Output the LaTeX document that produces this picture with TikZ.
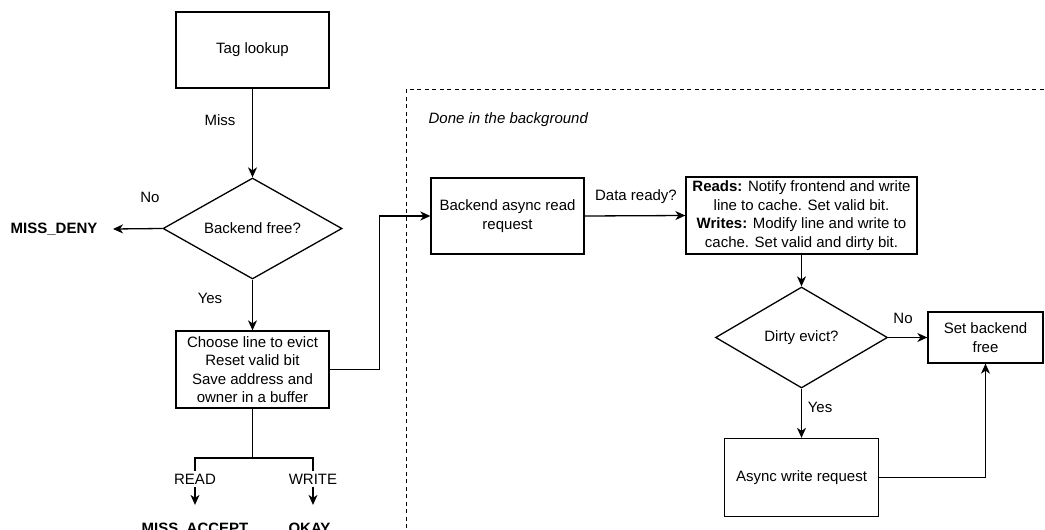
\documentclass[tikz,border=0pt]{standalone}
\usepackage{fontspec}
\setmainfont{Liberation Sans}
\usetikzlibrary{shapes.geometric,arrows.meta}
\begin{document}
\begin{tikzpicture}[x=1pt,y=-1pt,
  font=\fontsize{15pt}{18.5pt}\selectfont,
  line width=1.3pt,
  box/.style={draw, rectangle, align=center, inner sep=2pt},
  dec/.style={draw, diamond, inner sep=0pt, align=center},
  arr/.style={-{Stealth[length=10pt,width=9pt,inset=3pt]}},
  lbl/.style={inner sep=1pt},
  gaplbl/.style={inner xsep=1pt, inner ysep=3pt, fill=white},
  term/.style={font=\fontsize{15pt}{18.5pt}\selectfont\bfseries, inner sep=0pt}]
\useasboundingbox (0,0) rectangle (1045,530);
\clip (0,0) rectangle (1045,530);
\fill[white] (0,0) rectangle (1045,530);

% background region
\draw[dash pattern=on 4pt off 3.5pt, line width=1pt] (406,89) rectangle (1090,590);
\node[lbl, anchor=west, font=\fontsize{15pt}{18.5pt}\selectfont\itshape] (bgtitle) at (427,120) {Done in the background};

% left column
\node[box, minimum width=153, minimum height=76] (tag) at (252.5,50) {Tag lookup};
\node[dec, aspect=1.8, minimum width=179, minimum height=101] (bf) at (252.5,228.5) {Backend free?};
\node[term, anchor=east, inner xsep=15pt] (deny) at (113,229) {MISS\_DENY};
\node[box, minimum width=153, minimum height=77] (choose) at (252.5,369.5) {Choose line to evict\\Reset valid bit\\Save address and\\owner in a buffer};
\node[term, anchor=base] (accept) at (195,533) {MISS\_ACCEPT};
\node[term, anchor=base] (okay) at (309.5,533) {OKAY};
\coordinate (split) at (252.5,458);

\draw[arr] (tag.south) -- (bf.north);
\draw[arr] (bf.west) -- (deny.east);
\draw[arr] (bf.south) -- (choose.north);
\draw (choose.south) -- (split);
\draw[arr, shorten >=17pt] (split) -| (accept.north);
\draw[arr, shorten >=17pt] (split) -| ([xshift=3.5pt]okay.north);

\node[lbl] (miss) at (220,120) {Miss};
\node[lbl] (no1) at (150,197) {No};
\node[lbl] (yes1) at (210,298) {Yes};
\node[gaplbl] (rd) at (195,479) {READ};
\node[gaplbl] (wr) at (313,479) {WRITE};

% right part
\node[box, minimum width=153, minimum height=76] (bar) at (507.5,216) {Backend async read\\request};
\node[box, minimum width=231, minimum height=77] (reads) at (801.5,215.5) {\textbf{Reads:} Notify frontend and write\\line to cache. Set valid bit.\\\textbf{Writes:} Modify line and write to\\cache. Set valid and dirty bit.};
\node[dec, aspect=1.7, minimum width=172, minimum height=101] (de) at (801.5,337.5) {Dirty evict?};
\node[box, minimum width=115, minimum height=51] (sbf) at (985.5,337.5) {Set backend\\free};
\node[box, minimum width=154, minimum height=78] (awr) at (801.5,477.5) {Async write request};

\draw[arr] (choose.east) -- ++(50,0) |- (bar.west);
\draw[arr] (bar.east) -- (reads.west);
\draw[arr] (reads.south) -- (de.north);
\draw[arr] (de.east) -- (sbf.west);
\draw[arr] (de.south) -- (awr.north);
\draw[arr] (awr.east) -| (sbf.south);

\node[lbl] (dready) at (636,197) {Data ready?};
\node[lbl] (no2) at (903,318) {No};
\node[lbl] (yes2) at (820,407) {Yes};
\end{tikzpicture}
\end{document}
